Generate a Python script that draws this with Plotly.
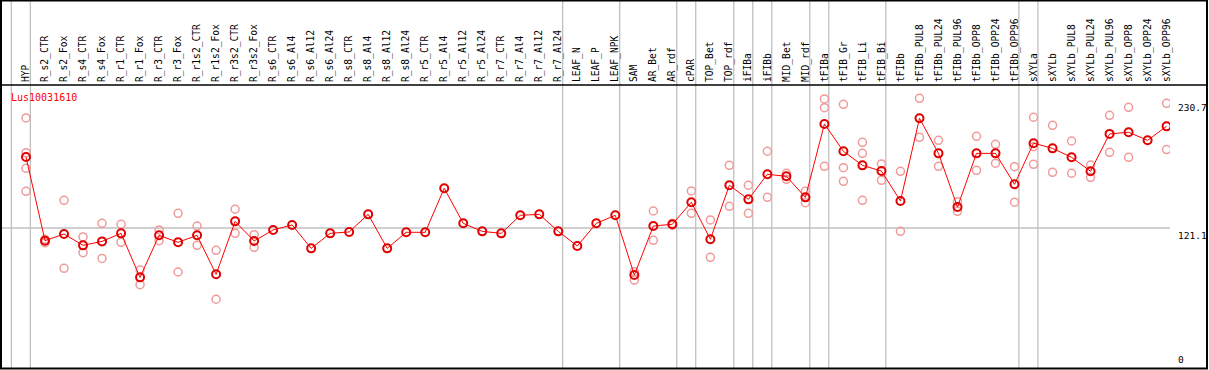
import plotly.graph_objects as go

title_text = "Lus10031610"

categories = [
    "HYP", "R_s2_CTR", "R_s2_Fox", "R_s4_CTR", "R_s4_Fox", "R_r1_CTR", "R_r1_Fox",
    "R_r3_CTR", "R_r3_Fox", "R_r1s2_CTR", "R_r1s2_Fox", "R_r3s2_CTR", "R_r3s2_Fox",
    "R_s6_CTR", "R_s6_Al4", "R_s6_Al12", "R_s6_Al24", "R_s8_CTR", "R_s8_Al4",
    "R_s8_Al12", "R_s8_Al24", "R_r5_CTR", "R_r5_Al4", "R_r5_Al12", "R_r5_Al24",
    "R_r7_CTR", "R_r7_Al4", "R_r7_Al12", "R_r7_Al24", "LEAF_N", "LEAF_P", "LEAF_NPK",
    "SAM", "AR_Bet", "AR_rdf", "cPAR", "TOP_Bet", "TOP_rdf", "iFIBa", "iFIBb",
    "MID_Bet", "MID_rdf", "tFIBa", "tFIB_Gr", "tFIB_Li", "tFIB_Bi", "tFIBb",
    "tFIBb_PUL8", "tFIBb_PUL24", "tFIBb_PUL96", "tFIBb_OPP8", "tFIBb_OPP24",
    "tFIBb_OPP96", "sXYLa", "sXYLb", "sXYLb_PUL8", "sXYLb_PUL24", "sXYLb_PUL96",
    "sXYLb_OPP8", "sXYLb_OPP24", "sXYLb_OPP96",
]

means = [
    182.1, 110.2, 115.9, 106.2, 109.6, 116.5, 78.7,
    114.8, 108.8, 114.8, 81.3, 126.8, 109.9,
    119.4, 123.7, 103.6, 116.5, 117.7, 132.8,
    103.6, 117.4, 117.4, 155.2, 125.1, 118.2,
    116.5, 132.0, 132.8, 118.2, 105.6, 125.1, 132.0,
    80.7, 122.8, 124.3, 143.2, 111.4, 157.8, 145.7, 167.2,
    165.5, 147.4, 210.4, 187.0, 174.9, 170.0, 144.3,
    215.3, 185.2, 139.1, 185.2, 185.2,
    158.6, 193.9, 189.5, 181.8, 169.8, 201.9,
    203.3, 196.4, 208.4,
]

replicates = [
    [215.6, 185.8, 172.3, 152.6], [108.5, 111.5], [144.9, 86.5], [113.4, 99.9],
    [125.1, 95.0], [124.3, 108.8], [85.0, 72.4],
    [119.4, 110.2], [133.7, 83.3], [122.8, 106.2], [101.9, 59.9], [137.2, 116.5],
    [115.4, 104.5],
    [], [], [], [], [], [],
    [], [], [], [], [], [],
    [], [], [], [], [], [], [],
    [83.6, 76.4], [135.7, 110.5], [125.0, 123.5], [152.9, 133.7], [128.0, 95.9],
    [174.9, 139.7], [157.8, 133.7], [187.0, 147.4],
    [168.1, 162.9], [152.6, 142.8], [231.9, 224.4, 174.1], [227.3, 172.9, 161.2],
    [194.7, 185.2, 144.9], [176.1, 162.0], [169.8, 118.2],
    [232.5, 199.0], [196.4, 174.1], [143.7, 135.4], [199.8, 170.6], [193.0, 176.7],
    [173.8, 143.2], [216.2, 190.9, 175.8], [209.3, 168.9], [195.8, 168.1],
    [175.2, 164.6], [217.9, 186.1],
    [224.7, 181.8], [], [228.2, 188.4],
]

y_tick_values = [0, 121.1, 230.7]
y_tick_labels = ["0", "121.1", "230.7"]
reference_line = 121.1

# index of last category in each group (separator drawn just after it)
group_ends = [-1, 0, 28, 31, 34, 35, 37, 38, 39, 41, 42, 45, 52, 53, 60]

FONT = "DejaVu Sans Mono"
GRAY = "#c0c0c0"
W, H = 1209, 370
ML, MR, MT, MB = 1, 39, 85, 1
PW = W - ML - MR
PH = H - MT - MB

xs = list(range(len(categories)))
rx, ry = [], []
for i, reps in enumerate(replicates):
    for v in reps:
        rx.append(i)
        ry.append(v)

fig = go.Figure()
fig.add_trace(go.Scatter(
    x=rx, y=ry, mode="markers",
    marker=dict(symbol="circle-open", size=8, color="#f09a9a", line=dict(width=1.5)),
    hoverinfo="skip", showlegend=False,
))
fig.add_trace(go.Scatter(
    x=xs, y=means, mode="lines+markers",
    line=dict(color="#ff0000", width=1),
    marker=dict(symbol="circle-open", size=8, color="#e00000", line=dict(width=2)),
    showlegend=False,
))

shapes = []
top_paper = 1 + MT / PH
right_paper = 1 + (W - 2 - ML - PW) / PW
# group separators
for g in group_ends:
    shapes.append(dict(type="line", xref="x", yref="paper", x0=g + 0.23, x1=g + 0.23,
                       y0=0, y1=top_paper, line=dict(color=GRAY, width=1.3), layer="below"))
# reference gridline
shapes.append(dict(type="line", xref="paper", yref="y", x0=0, x1=(1170 - ML) / PW,
                   y0=reference_line, y1=reference_line,
                   line=dict(color=GRAY, width=1.3), layer="below"))
# black frame
shapes.append(dict(type="rect", xref="paper", yref="paper", x0=0, x1=right_paper,
                   y0=0.5 / PH, y1=top_paper - 0.5 / PH, line=dict(color="black", width=2),
                   fillcolor="rgba(0,0,0,0)"))
shapes.append(dict(type="line", xref="paper", yref="paper", x0=0, x1=right_paper,
                   y0=1, y1=1, line=dict(color="black", width=1.5)))

annotations = [dict(text=title_text, xref="paper", yref="paper",
                    x=(9 - ML) / PW, y=(H - MB - 97) / PH, xanchor="left", yanchor="middle",
                    showarrow=False, font=dict(family=FONT, size=10, color="#ff0000"))]
for v, t in zip(y_tick_values, y_tick_labels):
    annotations.append(dict(text=t, xref="paper", yref="y", x=(1176 - ML) / PW, y=v,
                            xanchor="left", yanchor="bottom" if v == 0 else "top",
                            yshift=2 if v == 0 else 0,
                            showarrow=False,
                            font=dict(family=FONT, size=9.5, color="black")))

x_lo = (ML - 26) / 19.01
x_hi = (ML + PW - 26) / 19.01

fig.update_layout(
    width=W, height=H,
    margin=dict(l=ML, r=MR, t=MT, b=MB, pad=0),
    paper_bgcolor="white", plot_bgcolor="white",
    shapes=shapes, annotations=annotations,
    xaxis=dict(range=[x_lo, x_hi], side="top", tickmode="array", tickvals=xs,
               ticktext=categories, tickangle=-90, ticks="", showgrid=False,
               zeroline=False, showline=False, ticklabelstandoff=2,
               tickfont=dict(family=FONT, size=9.6, color="black")),
    yaxis=dict(range=[0, 243.9], showticklabels=False, showgrid=False,
               zeroline=False, showline=False, ticks=""),
)

fig.write_html("out.html", config={"displayModeBar": False},
               post_script="document.body.style.margin='0';document.body.style.overflow='hidden';")
